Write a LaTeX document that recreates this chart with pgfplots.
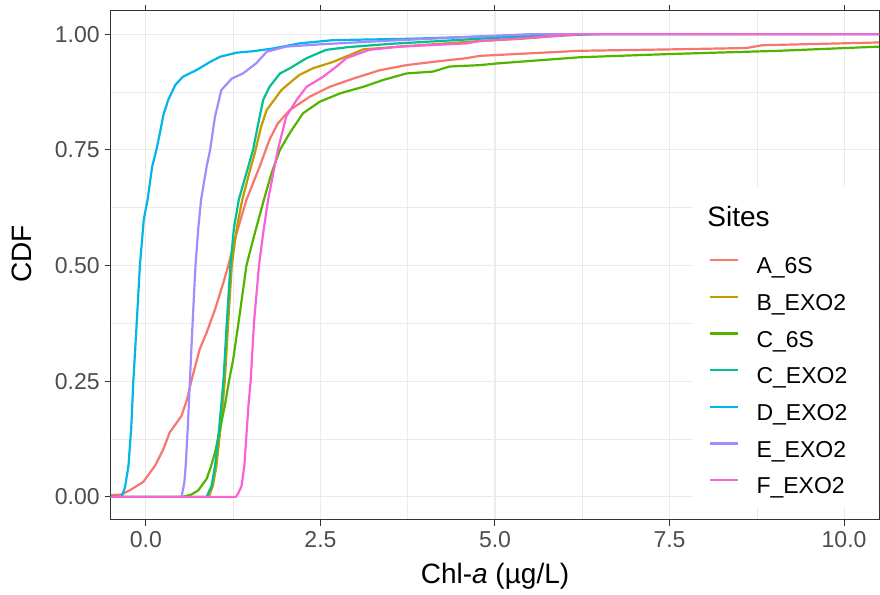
\documentclass[border=0pt]{standalone}
\usepackage{fontspec}
\setmainfont{Liberation Sans}
\usepackage{pgfplots}
\pgfplotsset{compat=1.18}

\definecolor{cA}{HTML}{F8766D}
\definecolor{cB}{HTML}{C49A00}
\definecolor{cC}{HTML}{53B400}
\definecolor{cCe}{HTML}{00C094}
\definecolor{cD}{HTML}{00B6EB}
\definecolor{cE}{HTML}{A58AFF}
\definecolor{cF}{HTML}{FB61D7}
\definecolor{grid92}{HTML}{EBEBEB}
\definecolor{grey20}{HTML}{333333}
\definecolor{grey30}{HTML}{4D4D4D}

\begin{document}
\begin{tikzpicture}
\begin{axis}[
    name=ax,
    scale only axis,
    width=384pt, height=254.5pt,
    xmin=-0.5, xmax=10.5, ymin=-0.05, ymax=1.05,
    xtick={0,2.5,5,7.5,10},
    ytick={0,0.25,0.5,0.75,1},
    minor x tick num=1, minor y tick num=1,
    grid=both,
    major grid style={color=grid92, line width=0.55pt},
    minor grid style={color=grid92, line width=0.3pt},
    axis line style={color=grey20, line width=0.5pt},
    tick align=outside,
    major tick length=3pt, minor tick length=0pt,
    tick style={color=grey20, line width=0.5pt},
    /pgf/number format/assume math mode=true,
    tick label style={font=\fontsize{11.5}{13}\selectfont, color=grey30, inner sep=0pt},
    xticklabel style={/pgf/number format/.cd, fixed, fixed zerofill, precision=1, /tikz/.cd, yshift=-2.5pt},
    yticklabel style={/pgf/number format/.cd, fixed, fixed zerofill, precision=2, /tikz/.cd, xshift=-2.5pt},
    label style={font=\fontsize{14}{16}\selectfont, color=black},
    xlabel={Chl-\textit{a} (µg/L)},
    ylabel={CDF},
    xlabel style={at={(axis description cs:0.5,-0.124)}, anchor=base, inner sep=0pt},
    ylabel style={at={(axis description cs:-0.116,0.523)}, anchor=center, inner sep=0pt},
    legend cell align=left,
    legend style={at={(axis description cs:0.7786,0.5157)}, anchor=north west,
        draw=none, fill=none, inner sep=0pt, row sep=7.83pt, column sep=8.5pt,
        font=\fontsize{11.5}{13}\selectfont,
        nodes={inner sep=0pt, text height=8pt, text depth=2.5pt}},
    legend image code/.code={\draw[#1] (0pt,4.1pt) -- (14pt,4.1pt);},
    every axis plot/.append style={line width=1.1pt},
]
% A_6S
\addplot[cA] coordinates {
(-0.5,0.004)(-0.35,0.005)(-0.2,0.017)(-0.04,0.032)(0.13,0.067)(0.25,0.103)(0.34,0.139)
(0.51,0.175)(0.59,0.211)(0.65,0.25)(0.77,0.319)(0.87,0.355)(0.99,0.405)(1.11,0.463)
(1.18,0.5)(1.30,0.570)(1.44,0.642)(1.63,0.714)(1.77,0.772)(1.89,0.807)(2.06,0.836)
(2.35,0.865)(2.63,0.886)(2.97,0.904)(3.35,0.922)(3.73,0.933)(4.11,0.940)(4.59,0.948)
(4.78,0.953)(6.21,0.964)(7.5,0.967)(8.6,0.970)(8.83,0.976)(10.5,0.982)};
\addlegendentry{A\_6S}
% B_EXO2
\addplot[cB] coordinates {
(-0.5,0)(0.90,0)(0.96,0.024)(1.01,0.067)(1.07,0.15)(1.13,0.25)(1.18,0.38)(1.23,0.5)
(1.30,0.58)(1.38,0.642)(1.48,0.70)(1.56,0.743)(1.65,0.80)(1.73,0.836)(1.94,0.879)
(2.11,0.901)(2.20,0.912)(2.39,0.926)(2.68,0.940)(2.97,0.958)(3.11,0.967)(3.63,0.973)
(4.3,0.980)(4.78,0.985)(5.37,0.990)(5.8,0.995)(6.3,1.0)(10.5,1.0)};
\addlegendentry{B\_EXO2}
% C_6S
\addplot[cC] coordinates {
(-0.5,0)(0.53,0)(0.65,0.005)(0.75,0.014)(0.87,0.039)(0.93,0.065)(0.99,0.096)(1.06,0.145)
(1.13,0.197)(1.19,0.25)(1.25,0.297)(1.34,0.391)(1.44,0.5)(1.56,0.570)(1.69,0.642)
(1.80,0.70)(1.92,0.75)(2.06,0.786)(2.25,0.829)(2.49,0.854)(2.78,0.872)(3.11,0.886)
(3.40,0.901)(3.73,0.915)(4.11,0.919)(4.35,0.930)(4.78,0.933)(5.06,0.937)(6.21,0.950)
(7.5,0.957)(9.07,0.964)(10.5,0.973)};
\addlegendentry{C\_6S}
% C_EXO2
\addplot[cCe] coordinates {
(-0.5,0)(0.87,0)(0.94,0.024)(0.99,0.067)(1.05,0.15)(1.11,0.25)(1.16,0.38)(1.21,0.5)
(1.26,0.58)(1.33,0.642)(1.44,0.70)(1.535,0.75)(1.60,0.80)(1.68,0.858)(1.77,0.886)
(1.92,0.915)(2.06,0.926)(2.30,0.948)(2.58,0.966)(2.9,0.972)(3.5,0.979)(4.2,0.985)
(5.0,0.992)(5.8,0.997)(6.5,1.0)(10.5,1.0)};
\addlegendentry{C\_EXO2}
% D_EXO2
\addplot[cD] coordinates {
(-0.5,0)(-0.35,0)(-0.30,0.02)(-0.25,0.067)(-0.21,0.15)(-0.18,0.25)(-0.13,0.38)
(-0.086,0.5)(-0.03,0.6)(0.024,0.642)(0.09,0.714)(0.15,0.75)(0.2,0.786)(0.25,0.825)
(0.32,0.858)(0.42,0.89)(0.53,0.908)(0.72,0.922)(0.92,0.940)(1.06,0.951)(1.30,0.960)
(1.53,0.963)(1.82,0.969)(2.2,0.980)(2.68,0.987)(3.78,0.990)(5.06,0.996)(5.6,1.0)(10.5,1.0)};
\addlegendentry{D\_EXO2}
% E_EXO2
\addplot[cE] coordinates {
(-0.5,0)(0.51,0)(0.55,0.03)(0.57,0.067)(0.60,0.15)(0.63,0.25)(0.67,0.38)(0.71,0.5)
(0.75,0.58)(0.79,0.642)(0.87,0.714)(0.92,0.75)(0.99,0.822)(1.08,0.879)(1.23,0.904)
(1.39,0.915)(1.58,0.937)(1.73,0.962)(2.01,0.973)(2.5,0.978)(3.5,0.986)(4.5,0.993)
(5.2,0.998)(5.6,1.0)(10.5,1.0)};
\addlegendentry{E\_EXO2}
% F_EXO2
\addplot[cF] coordinates {
(-0.5,0)(1.29,0)(1.33,0.01)(1.37,0.024)(1.41,0.067)(1.47,0.2)(1.50,0.25)(1.55,0.38)
(1.62,0.5)(1.68,0.57)(1.75,0.642)(1.89,0.75)(2.01,0.822)(2.16,0.858)(2.30,0.886)
(2.54,0.908)(2.73,0.930)(2.87,0.948)(3.20,0.966)(3.63,0.973)(4.59,0.980)(4.78,0.985)
(5.5,0.992)(6.2,1.0)(10.5,1.0)};
\addlegendentry{F\_EXO2}

\fill[white] (axis description cs:0.758,0.654) rectangle ([xshift=-0.6pt]axis description cs:1,0.025);
\node[anchor=base west, inner sep=0pt, font=\fontsize{14}{16}\selectfont] at (axis description cs:0.776,0.5757) {Sites};
\end{axis}
\pgfresetboundingbox
\path[use as bounding box] ([shift={(-55.5pt,-37.5pt)}]ax.south west) rectangle ([shift={(0.5pt,5.5pt)}]ax.north east);
\end{tikzpicture}
\end{document}
